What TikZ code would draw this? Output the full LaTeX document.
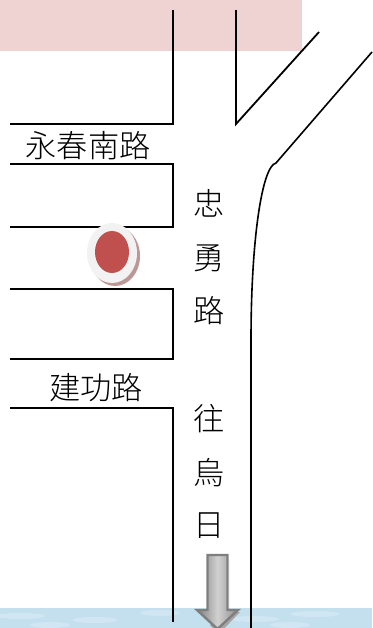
\documentclass[tikz,border=0pt]{standalone}
\usepackage{fontspec}
\newfontfamily\cjk{Noto Sans CJK TC Light}
\usetikzlibrary{shadings}
\definecolor{pinkband}{HTML}{EFD2D2}
\definecolor{skyband}{HTML}{C4E0EF}
\definecolor{skylight}{HTML}{D6E9F4}
\definecolor{dotred}{HTML}{C0504D}
\definecolor{dotshadow}{HTML}{BD9696}
\definecolor{dotring}{HTML}{F2F2F2}
\definecolor{arrowedge}{HTML}{7F7F7F}
\tikzset{
  x=0.75pt,y=-0.75pt,
  road/.style={draw=black,line width=1.35pt,line join=miter},
  curb/.style={draw=black,line width=1.2pt,line join=round},
  label/.style={font=\cjk\fontsize{23.4}{23.4}\selectfont,text=black,inner sep=0pt},
}
\begin{document}
\begin{tikzpicture}
\useasboundingbox (0,0) rectangle (372,628);
% backgrounds
\fill[pinkband] (0,0) rectangle (302,51);
\fill[skyband] (0,608) rectangle (372,628);
\foreach \x/\y/\w in {20/616/50,95/620/45,160/613/40,255/619/48,315/614/50,50/625/40,290/625/40}
  \fill[skylight,opacity=.7] (\x,\y) ellipse ({\w*0.5} and 3);
% roads
\draw[road] (173,10) -- (173,124) -- (10,124);
\draw[road] (10,164) -- (173,164) -- (173,227) -- (10,227);
\draw[road] (10,289) -- (173,289) -- (173,359) -- (10,359);
\draw[road] (10,408) -- (173,408) -- (173,622);
\draw[road] (236,10) -- (236,124) -- (319,32);
\draw[curb] (372,52) -- (276,163) .. controls (262,166) and (251,240) .. (251,340) -- (251,628);
% marker
\fill[dotshadow] (115,256) ellipse (25 and 30);
\fill[dotring] (112,253) ellipse (25 and 30);
\fill[dotred] (112,252) ellipse (17 and 21);
% arrow
\fill[black!35] (229,560) -- (229,612) -- (240,612) -- (219,634) -- (210,625) -- (229,612) -- cycle;
\path[clip] (0,0) rectangle (372,628);
\draw[arrowedge,line width=1.8pt,left color=black!50,right color=black!45,middle color=black!18,line join=miter]
  (207.5,555) -- (227.5,555) -- (227.5,610) -- (238,610) -- (217.5,629) -- (197,610) -- (207.5,610) -- cycle;
% labels
\node[label] (yc) at (88,146) {永春南路};
\node[label] (jg) at (96,388) {建功路};
\node[label] (z1) at (209,203) {忠};
\node[label] (z2) at (209,258) {勇};
\node[label] (z3) at (209,311) {路};
\node[label] (w1) at (209,419) {往};
\node[label] (w2) at (209,473) {烏};
\node[label] (w3) at (209,526) {日};
\end{tikzpicture}
\end{document}
